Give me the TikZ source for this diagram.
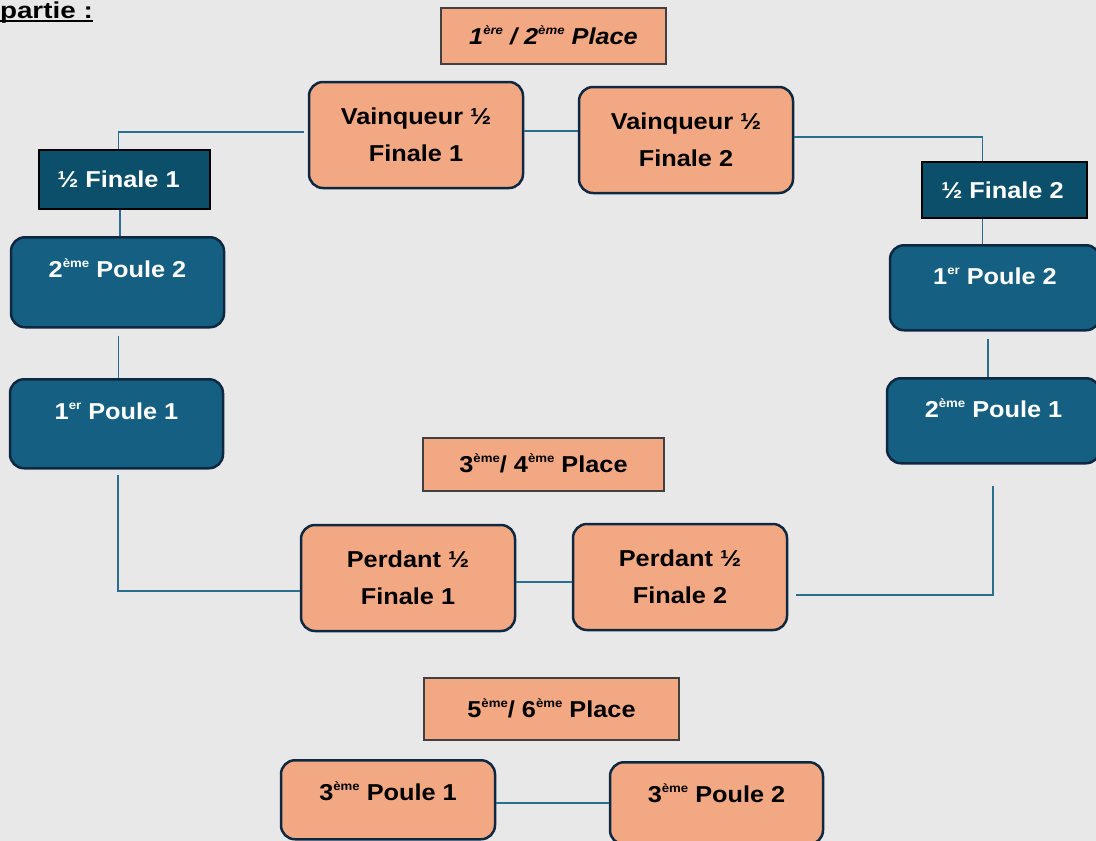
\documentclass[tikz,border=0pt]{standalone}
\usepackage{fontspec}
\setmainfont{Liberation Sans}[FakeStretch=1.1]
\definecolor{bgc}{HTML}{E8E8E8}
\definecolor{salmon}{HTML}{F2A983}
\definecolor{navy}{HTML}{0E2841}
\definecolor{accblue}{HTML}{156082}
\definecolor{demiteal}{HTML}{0B4F6A}
\definecolor{linec}{HTML}{2A6F90}
\newcommand\supx[1]{\raisebox{10pt}{\fontsize{12}{12}\selectfont #1}}
\begin{document}
\begin{tikzpicture}[x=1pt,y=-1pt,
  font=\fontsize{23}{37}\selectfont\bfseries,
  rbox/.style={rectangle, rounded corners=14pt, draw=navy, line width=2.5pt, inner sep=0pt, align=center},
  orr/.style={rbox, fill=salmon, text=black},
  blr/.style={rbox, fill=accblue, text=white},
  plbox/.style={rectangle, fill=salmon, draw=black!75, line width=1.3pt, inner sep=0pt, text height=16pt, text depth=0pt},
  demi/.style={rectangle, fill=demiteal, draw=black, line width=1.5pt, text=white, inner sep=0pt, text height=16pt, text depth=0pt},
  conn/.style={draw=linec, line width=1.3pt}]
\useasboundingbox (0,0) rectangle (1096,841);
\fill[bgc] (0,0) rectangle (1096,841);

\node[anchor=base east, inner sep=0pt] (ttl) at (93,18) {\scalebox{1.1}[1]{partie :}};
\draw[line width=1.6pt] ([yshift=-3pt]ttl.base west) -- ([yshift=-3pt]ttl.base east);

\node[plbox, minimum width=225pt, minimum height=56pt] (p12) at (553.5,36) {\itshape 1\supx{ère} / 2\supx{ème} Place};
\node[orr, minimum width=214pt, minimum height=106pt] (v1) at (416,135) {Vainqueur ½\\Finale 1};
\node[orr, minimum width=214pt, minimum height=106pt] (v2) at (686,140) {Vainqueur ½\\Finale 2};
\node[demi, minimum width=171pt, minimum height=59pt] (d1) at (124.5,179.5) {½ Finale 1\hspace*{12pt}};
\node[demi, minimum width=165pt, minimum height=56pt] (d2) at (1004.5,190) {½ Finale 2\hspace*{4pt}};
\node[blr, anchor=north, minimum width=213pt, text height=40pt, text depth=50pt] (p22) at (117.5,236) {2\supx{ème} Poule 2};
\node[blr, anchor=north, minimum width=213pt, text height=40pt, text depth=49pt] (p11) at (116.5,378) {1\supx{er} Poule 1};
\node[blr, anchor=north, minimum width=210pt, text height=39pt, text depth=46pt] (q12) at (995,244) {1\supx{er} Poule 2};
\node[blr, anchor=north, minimum width=213pt, text height=39pt, text depth=46pt] (q21) at (993.5,377) {2\supx{ème} Poule 1};
\node[plbox, minimum width=241pt, minimum height=53pt] (p34) at (543.5,464.5) {3\supx{ème}/ 4\supx{ème} Place};
\node[orr, minimum width=214pt, minimum height=106pt] (l1) at (408,578) {Perdant ½\\Finale 1};
\node[orr, minimum width=214pt, minimum height=106pt] (l2) at (680,577) {Perdant ½\\Finale 2};
\node[plbox, minimum width=255pt, minimum height=62pt] (p56) at (551.5,709) {5\supx{ème}/ 6\supx{ème} Place};
\node[orr, anchor=north, minimum width=214pt, text height=40pt, text depth=39pt] (t1) at (388,759) {3\supx{ème} Poule 1};
\node[orr, anchor=north, minimum width=213pt, text height=40pt, text depth=42pt] (t2) at (716.5,761) {3\supx{ème} Poule 2};

\coordinate (k1) at (118.5,132);
\coordinate (k1b) at (120,0);
\coordinate (k2) at (118,591);
\coordinate (k3) at (544,582);
\coordinate (k4) at (993,595);
\coordinate (k5) at (988,356);
\coordinate (k6) at (982.5,137);
\coordinate (k7) at (552,803);
\coordinate (k8) at (551,131);

\draw[conn, shorten <=4pt] (k1 -| v1.west) -- (k1) -- (k1 |- d1.north);
\draw[conn] (d1.south -| k1b) -- (p22.north -| k1b);
\draw[conn, shorten <=7pt] (p22.south -| k1) -- (p11.north -| k1);
\draw[conn, shorten <=5pt] (p11.south -| k2) -- (k2) -- (k2 -| l1.west);
\draw[conn] (k3 -| l1.east) -- (k3 -| l2.west);
\draw[conn, shorten <=8pt, shorten >=21pt] (k4 -| l2.east) -- (k4) -- (k4 |- q21.south);
\draw[conn, shorten <=7pt] (q12.south -| k5) -- (q21.north -| k5);
\draw[conn] (k6 -| v2.east) -- (k6) -- (k6 |- d2.north);
\draw[conn] (d2.south -| k6) -- (q12.north -| k6);
\draw[conn] (k7 -| t1.east) -- (k7 -| t2.west);
\draw[conn] (k8 -| v1.east) -- (k8 -| v2.west);
\end{tikzpicture}
\end{document}
